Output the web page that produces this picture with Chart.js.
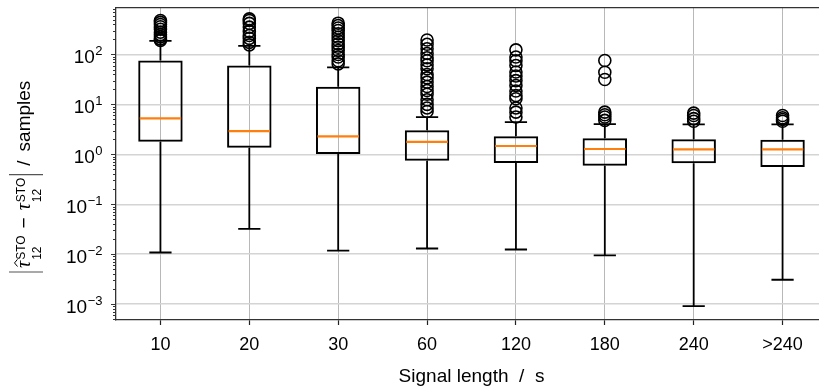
<!DOCTYPE html>
<html>
<head>
<meta charset="utf-8">
<script src="https://cdn.jsdelivr.net/npm/chart.js@4/dist/chart.umd.min.js"></script>
<style>
  html, body { margin: 0; padding: 0; overflow: hidden; background: #fff; }
  #wrap { width: 840px; height: 388px; }
</style>
</head>
<body>
<div id="wrap"><canvas id="chart"></canvas></div>
<script>
const categories = ['10', '20', '30', '60', '120', '180', '240', '>240'];
const q1 = [1.79, 1.36, 1.01, 0.746, 0.67, 0.593, 0.66, 0.56];
const q3 = [76, 60, 22.6, 3.02, 2.29, 2.09, 2.0, 1.97];
const medians = [5.25, 2.93, 2.29, 1.77, 1.47, 1.28, 1.26, 1.26];
const whiskerLow = [0.0108, 0.032, 0.0118, 0.013, 0.0124, 0.0095, 0.00091, 0.00307];
const whiskerHigh = [187, 149, 55, 5.58, 4.43, 4.04, 3.98, 3.98];
const outliers = [
  [192, 205, 225, 250, 280, 320, 360, 400, 440, 480],
  [156, 175, 210, 240, 290, 354, 420, 479, 517],
  [65, 75, 89, 100, 120, 140, 163, 190, 222, 260, 302, 340, 380, 424],
  [7.2, 8.5, 10, 12.4, 16, 19, 22.9, 28, 34, 39.8, 51.7, 62, 75, 86, 105, 130, 160, 195],
  [5.6, 7.0, 8.5, 13, 15, 18.6, 24, 30, 37, 44.5, 60, 75, 89, 124],
  [4.8, 5.6, 6.2, 7.0, 31.6, 44, 76],
  [4.6, 5.2, 6.0, 6.7],
  [4.6, 5.0, 5.4, 6.0]
];
const yDecades = [-3, -2, -1, 0, 1, 2];
const yMin = 4.8e-4;
const yMax = 870;

const FONT = "'Liberation Sans', Arial, sans-serif";
Chart.defaults.font.family = FONT;
Chart.defaults.color = '#000';

const boxParts = {
  id: 'boxParts',
  beforeDatasetsDraw(chart) {
    const ctx = chart.ctx;
    const y = chart.scales.y;
    const bars = chart.getDatasetMeta(0).data;
    ctx.save();
    ctx.strokeStyle = '#000';
    ctx.lineWidth = 1.8;
    bars.forEach((bar, i) => {
      const x = bar.x;
      const half = bar.width / 4;
      const lo = y.getPixelForValue(whiskerLow[i]);
      const hi = y.getPixelForValue(whiskerHigh[i]);
      ctx.beginPath();
      ctx.moveTo(x, lo); ctx.lineTo(x, y.getPixelForValue(q1[i]));
      ctx.moveTo(x, y.getPixelForValue(q3[i])); ctx.lineTo(x, hi);
      ctx.moveTo(x - half, lo); ctx.lineTo(x + half, lo);
      ctx.moveTo(x - half, hi); ctx.lineTo(x + half, hi);
      ctx.stroke();
    });
    ctx.restore();
  },
  afterDatasetsDraw(chart) {
    const ctx = chart.ctx;
    const y = chart.scales.y;
    const area = chart.chartArea;
    const bars = chart.getDatasetMeta(0).data;
    ctx.save();
    // medians
    ctx.strokeStyle = '#ff7f0e';
    ctx.lineWidth = 2.2;
    bars.forEach((bar, i) => {
      const m = y.getPixelForValue(medians[i]);
      ctx.beginPath();
      ctx.moveTo(bar.x - bar.width / 2 + 1.5, m);
      ctx.lineTo(bar.x + bar.width / 2 - 1.5, m);
      ctx.stroke();
    });
    // top spine
    ctx.strokeStyle = '#333';
    ctx.lineWidth = 1.3;
    ctx.beginPath();
    ctx.moveTo(area.left, area.top);
    ctx.lineTo(area.right, area.top);
    ctx.stroke();
    // y tick marks
    ctx.lineWidth = 1;
    y.ticks.forEach(t => {
      const py = Math.round(y.getPixelForValue(t.value)) + 0.5;
      const len = t.major ? 5 : 3;
      ctx.beginPath();
      ctx.moveTo(area.left - len, py);
      ctx.lineTo(area.left, py);
      ctx.stroke();
    });
    // y tick labels 10^k
    ctx.fillStyle = '#000';
    ctx.textBaseline = 'alphabetic';
    ctx.textAlign = 'left';
    yDecades.forEach(k => {
      const py = y.getPixelForValue(Math.pow(10, k));
      const exp = k < 0 ? '\u2212' + (-k) : String(k);
      ctx.font = '13px ' + FONT;
      const we = ctx.measureText(exp).width;
      ctx.font = '19px ' + FONT;
      const wb = ctx.measureText('10').width;
      const x0 = 102 - we - wb;
      ctx.fillText('10', x0, py + 9);
      ctx.font = '13px ' + FONT;
      ctx.fillText(exp, x0 + wb + 0.5, py + 0.5);
    });
    drawYTitle(ctx);
    ctx.restore();
  }
};

function drawYTitle(ctx) {
  ctx.save();
  ctx.translate(30, 0);
  ctx.rotate(-Math.PI / 2);
  ctx.fillStyle = '#000';
  ctx.textBaseline = 'alphabetic';
  ctx.textAlign = 'left';
  let u = -272;
  const bar = () => {
    ctx.save();
    ctx.strokeStyle = '#555';
    ctx.lineWidth = 1.2;
    ctx.beginPath();
    ctx.moveTo(u, -21); ctx.lineTo(u, 13);
    ctx.stroke();
    ctx.restore();
  };
  const tau = (hat) => {
    ctx.font = 'italic 20px "Liberation Serif", serif';
    const w = ctx.measureText('\u03c4').width;
    ctx.fillText('\u03c4', u, 0);
    if (hat) {
      ctx.save();
      ctx.strokeStyle = '#000';
      ctx.lineWidth = 1;
      ctx.beginPath();
      ctx.moveTo(u + 1.5, -12.5);
      ctx.lineTo(u + w / 2 + 1.5, -15.5);
      ctx.lineTo(u + w + 1.5, -12.5);
      ctx.stroke();
      ctx.restore();
    }
    u += w + 1;
    ctx.font = '12px ' + FONT;
    const w1 = ctx.measureText('STO').width;
    const w2 = ctx.measureText('12').width;
    ctx.fillText('STO', u, -5);
    ctx.fillText('12', u, 11);
    u += Math.max(w1, w2);
  };
  bar();
  u += 4;
  tau(true);
  u += 7;
  ctx.font = '19px ' + FONT;
  ctx.fillText('\u2212', u, 0);
  u += ctx.measureText('\u2212').width + 7;
  tau(false);
  u += 3;
  bar();
  u += 9;
  ctx.font = '19px ' + FONT;
  ctx.fillText('/', u, 0);
  u += ctx.measureText('/').width + 9;
  ctx.fillText('samples', u, 0);
  ctx.restore();
}

const pointData = outliers.flatMap((vals, i) => vals.map(v => ({ x: categories[i], y: v })));

const ctx = document.getElementById('chart').getContext('2d');

const myChart = new Chart(ctx, {
  type: 'bar',
  data: {
    labels: categories,
    datasets: [
      {
        label: 'IQR',
        data: categories.map((c, i) => [q1[i], q3[i]]),
        backgroundColor: 'rgba(0,0,0,0)',
        borderColor: '#000',
        borderWidth: 2,
        borderSkipped: false,
        barPercentage: 0.5,
        categoryPercentage: 1
      },
      {
        type: 'line',
        label: 'Outliers',
        data: pointData,
        showLine: false,
        pointRadius: 6,
        pointBorderWidth: 1.6,
        pointBackgroundColor: 'rgba(0,0,0,0)',
        pointBorderColor: '#000'
      }
    ]
  },
  options: {
    responsive: true,
    maintainAspectRatio: false,
    animation: false,
    layout: { padding: { top: 7, right: 13, left: 0, bottom: 0 } },
    plugins: {
      legend: { display: false },
      tooltip: { enabled: false }
    },
    scales: {
      x: {
        offset: true,
        grid: {
          offset: false,
          color: '#b8b8b8',
          lineWidth: 1,
          tickColor: '#222',
          tickLength: 5,
          tickWidth: 1.2
        },
        border: { color: '#333', width: 1.3 },
        ticks: { font: { size: 18 }, color: '#000', padding: 9, maxRotation: 0 },
        title: {
          display: true,
          text: 'Signal length  /  s',
          font: { size: 19 },
          color: '#000',
          padding: { top: 0, bottom: 0 }
        },
        afterFit: (s) => { s.height = 68; }
      },
      y: {
        type: 'logarithmic',
        min: yMin,
        max: yMax,
        afterBuildTicks: (scale) => {
          const t = [];
          for (let e = -4; e <= 2; e++) {
            for (let m = 1; m <= 9; m++) {
              const v = m * Math.pow(10, e);
              if (v >= yMin && v <= yMax) t.push({ value: v, major: m === 1 });
            }
          }
          scale.ticks = t;
        },
        grid: {
          color: (c) => (c.tick && c.tick.major ? '#d4d4d4' : 'rgba(0,0,0,0)'),
          lineWidth: 1.5,
          drawTicks: false
        },
        border: { color: '#333', width: 1.3 },
        ticks: { display: false, autoSkip: false },
        afterFit: (s) => { s.width = 116; }
      }
    }
  },
  plugins: [boxParts]
});
</script>
</body>
</html>
